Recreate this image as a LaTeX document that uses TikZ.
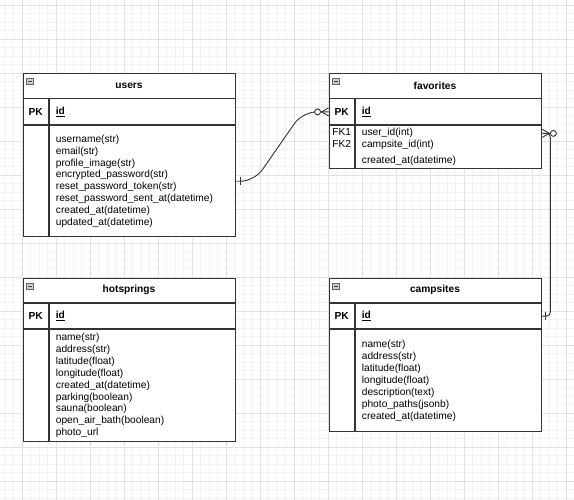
\documentclass[tikz,border=0pt]{standalone}
\usepackage{fontspec}
\setmainfont{Liberation Sans}
\usepackage{xcolor}
\definecolor{erline}{RGB}{51,51,51}
\definecolor{minorgray}{RGB}{242,242,242}
\definecolor{majorgray}{RGB}{226,226,226}
\definecolor{iconfill}{RGB}{205,205,205}
\usetikzlibrary{positioning,calc}
\tikzset{
  cell/.style={draw=erline, fill=white, line width=0.9pt, inner sep=0pt, font=\fontsize{10.2}{11.9}\selectfont},
  headcell/.style={cell, minimum width=212pt, minimum height=25pt, font=\fontsize{10.2}{11.9}\selectfont\bfseries},
  keycell/.style={cell, minimum width=25.5pt, align=center},
  fieldcell/.style={cell, minimum width=186.5pt, text width=173.5pt, inner xsep=6.5pt, align=left},
  minusicon/.style={draw=gray!80!black, fill=iconfill, minimum width=7pt, minimum height=6pt, inner sep=0pt, line width=0.6pt,
    path picture={\draw[line width=0.9pt, black!75] ([xshift=1.5pt]path picture bounding box.west) -- ([xshift=-1.5pt]path picture bounding box.east);}},
  conn/.style={draw=erline, line width=0.9pt},
  minorline/.style={draw=minorgray, line width=0.8pt},
  majorline/.style={draw=majorgray, line width=0.8pt},
}

\begin{document}
\begin{tikzpicture}[x=1pt, y=-1pt]
  \useasboundingbox (0,0) rectangle (574,500);
  % Grid
  \foreach \i in {0,...,67} \draw[minorline] ({5+8.5*\i},0) -- ({5+8.5*\i},500);
  \foreach \i in {0,...,58} \draw[minorline] (0,{5+8.5*\i}) -- (574,{5+8.5*\i});
  \foreach \i in {0,...,16} \draw[majorline] ({22+34*\i},0) -- ({22+34*\i},500);
  \foreach \i in {0,...,14} \draw[majorline] (0,{5+34*\i}) -- (574,{5+34*\i});

  % users
  \node[headcell] (usershead) at (129,85.5) {users};
  \node[minusicon] (usersicon) at ([xshift=7.5pt,yshift=-9pt]usershead.north west) {};
  \node[keycell, minimum height=26pt, below right=0pt and 0pt of usershead.south west] (userspkkey) {\textbf{PK}};
  \node[fieldcell, minimum height=26pt, right=0pt of userspkkey] (userspk) {\textbf{\underline{id}}};
  \node[keycell, minimum height=111pt, below=0pt of userspkkey] (usersbodykey) {};
  \node[fieldcell, minimum height=111pt, right=0pt of usersbodykey] (usersbody) {username(str)\\email(str)\\profile\_image(str)\\encrypted\_password(str)\\reset\_password\_token(str)\\reset\_password\_sent\_at(datetime)\\created\_at(datetime)\\updated\_at(datetime)};

  % favorites
  \node[headcell] (favhead) at (435,85.5) {favorites};
  \node[minusicon] (favicon) at ([xshift=7.5pt,yshift=-9pt]favhead.north west) {};
  \node[keycell, minimum height=26pt, below right=0pt and 0pt of favhead.south west] (favpkkey) {\textbf{PK}};
  \node[fieldcell, minimum height=26pt, right=0pt of favpkkey] (favpk) {\textbf{\underline{id}}};
  \node[keycell, minimum height=43pt, below=0pt of favpkkey] (favbodykey) {\strut FK1\\FK2\\[4pt]\strut};
  \node[fieldcell, minimum height=43pt, right=0pt of favbodykey] (favbody) {\strut user\_id(int)\\campsite\_id(int)\\[4pt]\strut created\_at(datetime)};

  % hotsprings
  \node[headcell, minimum height=24.5pt] (hothead) at (129,290.25) {hotsprings};
  \node[minusicon] (hoticon) at ([xshift=7.5pt,yshift=-9pt]hothead.north west) {};
  \node[keycell, minimum height=25.5pt, below right=0pt and 0pt of hothead.south west] (hotpkkey) {\textbf{PK}};
  \node[fieldcell, minimum height=25.5pt, right=0pt of hotpkkey] (hotpk) {\textbf{\underline{id}}};
  \node[keycell, minimum height=111.5pt, below=0pt of hotpkkey] (hotbodykey) {};
  \node[fieldcell, minimum height=111.5pt, right=0pt of hotbodykey] (hotbody) {name(str)\\address(str)\\latitude(float)\\longitude(float)\\created\_at(datetime)\\parking(boolean)\\sauna(boolean)\\open\_air\_bath(boolean)\\photo\_url};

  % campsites
  \node[headcell, minimum height=24.5pt] (camphead) at (435,290.25) {campsites};
  \node[minusicon] (campicon) at ([xshift=7.5pt,yshift=-9pt]camphead.north west) {};
  \node[keycell, minimum height=25.5pt, below right=0pt and 0pt of camphead.south west] (camppkkey) {\textbf{PK}};
  \node[fieldcell, minimum height=25.5pt, right=0pt of camppkkey] (camppk) {\textbf{\underline{id}}};
  \node[keycell, minimum height=102pt, below=0pt of camppkkey] (campbodykey) {};
  \node[fieldcell, minimum height=102pt, right=0pt of campbodykey] (campbody) {name(str)\\address(str)\\latitude(float)\\longitude(float)\\description(text)\\photo\_paths(jsonb)\\created\_at(datetime)};

  % users -- favorites
  \draw[conn, rounded corners=14pt] (usersbody.east) -- ++(18,0) -- ([xshift=-26pt]favpkkey.west) -- (favpkkey.west);
  \draw[conn] ([xshift=4pt,yshift=4pt]usersbody.east) -- ([xshift=4pt,yshift=-4pt]usersbody.east);
  \draw[conn] ([yshift=4pt]favpkkey.west) -- ([xshift=-7pt]favpkkey.west) -- ([yshift=-4pt]favpkkey.west);
  \draw[conn, fill=white] ([xshift=-11pt]favpkkey.west) circle (3pt);

  % favorites -- campsites
  \draw[conn, rounded corners=4pt] ([yshift=-8pt]favbody.north east) -- ++(8,0) |- (camppk.east);
  \draw[conn] ([yshift=-4pt]favbody.north east) -- ([xshift=7pt,yshift=-8pt]favbody.north east) -- ([yshift=-12pt]favbody.north east);
  \draw[conn, fill=white] ([xshift=11pt,yshift=-8pt]favbody.north east) circle (3pt);
  \draw[conn] ([xshift=3pt,yshift=4pt]camppk.east) -- ([xshift=3pt,yshift=-4pt]camppk.east);
\end{tikzpicture}
\end{document}
